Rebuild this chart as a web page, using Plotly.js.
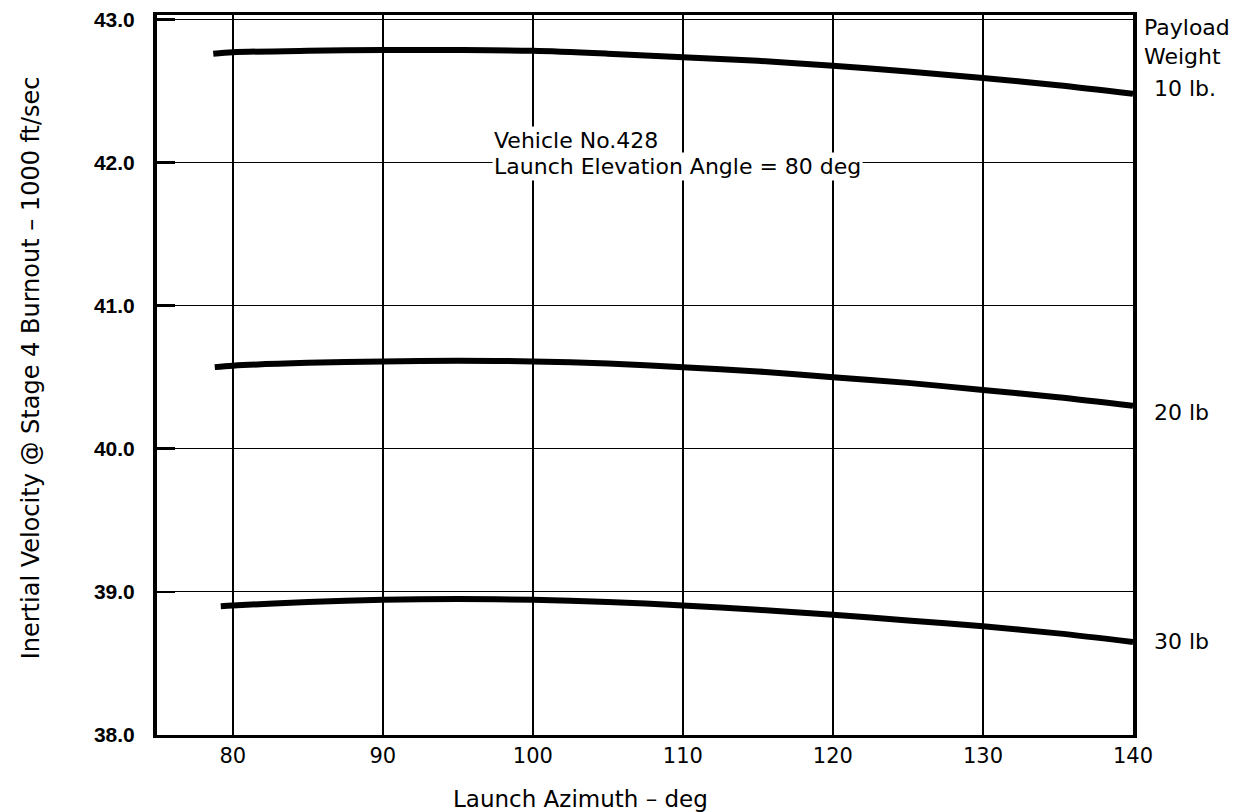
<!DOCTYPE html>
<html>
<head>
<meta charset="utf-8">
<script src="https://cdn.plot.ly/plotly-3.0.1.min.js"></script>
<style>html,body{margin:0;padding:0;background:#fff;}#chart{width:1243px;height:812px;}</style>
</head>
<body>
<div id="chart"></div>
<script>
// Launch azimuth (deg) and inertial velocity (1000 ft/sec)
const azimuth10 = [78.7, 80, 85, 90, 95, 100, 105, 110, 115, 120, 125, 130, 135, 140];
const velocity10 = [42.76, 42.77, 42.78, 42.785, 42.785, 42.78, 42.76, 42.735, 42.71, 42.675, 42.635, 42.59, 42.54, 42.48];
const azimuth20 = [78.8, 80, 85, 90, 95, 100, 105, 110, 115, 120, 125, 130, 135, 140];
const velocity20 = [40.57, 40.58, 40.60, 40.61, 40.615, 40.61, 40.595, 40.57, 40.54, 40.50, 40.46, 40.41, 40.36, 40.30];
const azimuth30 = [79.2, 80, 85, 90, 95, 100, 105, 110, 115, 120, 125, 130, 135, 140];
const velocity30 = [38.90, 38.905, 38.93, 38.945, 38.95, 38.945, 38.93, 38.905, 38.875, 38.84, 38.80, 38.76, 38.71, 38.65];
const payloadLabels = ["10 lb.", "20 lb", "30 lb"];
const xTicks = [80, 90, 100, 110, 120, 130, 140];
const yTicks = [38, 39, 40, 41, 42, 43];
const yTickText = ["38.0", "39.0", "40.0", "41.0", "42.0", "43.0"];

const series = [[azimuth10, velocity10], [azimuth20, velocity20], [azimuth30, velocity30]];
const traces = series.map((s, i) => ({
  x: s[0], y: s[1], type: "scatter", mode: "lines", name: payloadLabels[i],
  line: {color: "#000", width: 6, shape: "spline", smoothing: 0.8},
  hoverinfo: "skip", showlegend: false
}));

const txt = "'DejaVu Sans', sans-serif";
const labelShift = [0.04, -0.05, 0.0];
const annotations = [
  {xref: "paper", yref: "paper", x: 1.009, y: 0.982, text: "Payload", showarrow: false,
   xanchor: "left", yanchor: "middle", font: {family: txt, size: 22, color: "#000"}},
  {xref: "paper", yref: "paper", x: 1.009, y: 0.942, text: "Weight", showarrow: false,
   xanchor: "left", yanchor: "middle", font: {family: txt, size: 22, color: "#000"}}
];
series.forEach((s, i) => {
  annotations.push({xref: "paper", yref: "y", x: 1.019, y: s[1][s[1].length - 1] + labelShift[i],
    text: payloadLabels[i], showarrow: false, xanchor: "left", yanchor: "middle",
    font: {family: txt, size: 22, color: "#000"}});
});
annotations.push({xref: "x", yref: "y", x: 97.3, y: 42.15, xanchor: "left", yanchor: "middle",
  text: "Vehicle No.428", align: "left", showarrow: false,
  bgcolor: "#fff", borderpad: 1, font: {family: txt, size: 22, color: "#000"}});
annotations.push({xref: "x", yref: "y", x: 97.3, y: 41.97, xanchor: "left", yanchor: "middle",
  text: "Launch Elevation Angle = 80 deg", align: "left", showarrow: false,
  bgcolor: "#fff", borderpad: 1, font: {family: txt, size: 22, color: "#000"}});
annotations.push({xref: "paper", yref: "paper", x: 0.434, y: -0.089, xanchor: "center", yanchor: "middle",
  text: "Launch Azimuth – deg", showarrow: false, font: {family: txt, size: 23, color: "#000"}});
annotations.push({xref: "paper", yref: "paper", x: -0.1296, y: 0.51, xanchor: "center", yanchor: "middle",
  text: "Inertial Velocity @ Stage 4 Burnout – 1000 ft/sec", textangle: -90, showarrow: false,
  font: {family: txt, size: 24, color: "#000"}});

const layout = {
  width: 1243, height: 812,
  margin: {l: 157, r: 110, t: 15, b: 77},
  paper_bgcolor: "#fff", plot_bgcolor: "#fff",
  showlegend: false,
  xaxis: {
    range: [74.95, 140], tickvals: xTicks, ticktext: xTicks.map(String),
    showgrid: true, gridcolor: "#000", gridwidth: 1.6, zeroline: false,
    showline: true, linecolor: "#000", linewidth: 3, mirror: true,
    ticks: "", ticklabelstandoff: 0,
    tickfont: {family: txt, size: 21, color: "#000"}
  },
  yaxis: {
    range: [38, 43.03], tickvals: yTicks, ticktext: yTickText,
    showgrid: true, gridcolor: "#000", gridwidth: 1.1, zeroline: false,
    showline: true, linecolor: "#000", linewidth: 4, mirror: true,
    ticks: "inside", ticklen: 18, tickwidth: 2.5, tickcolor: "#000",
    ticklabelstandoff: 14,
    tickfont: {family: "'Liberation Sans', Arial, sans-serif", size: 21, color: "#000", weight: "bold"}
  },
  annotations: annotations
};

Plotly.newPlot("chart", traces, layout, {staticPlot: true, displayModeBar: false});
</script>
</body>
</html>
